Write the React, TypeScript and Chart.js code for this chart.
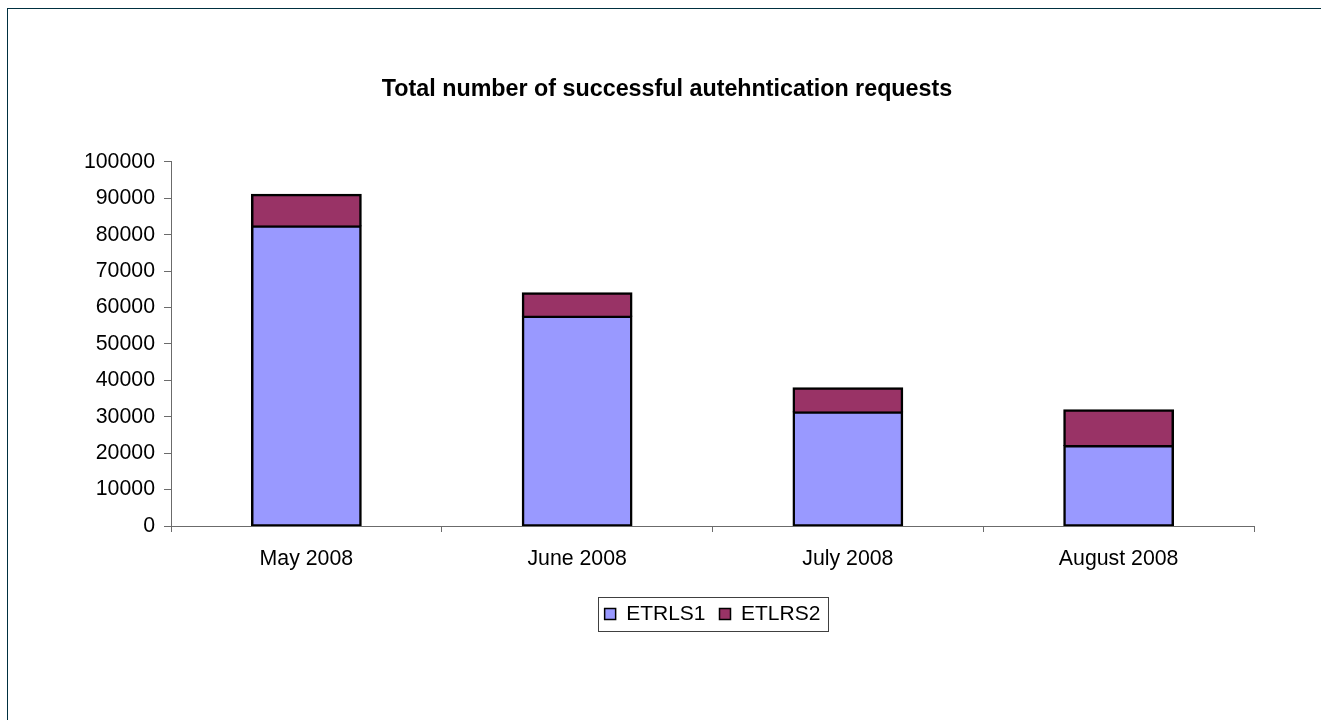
import React, { useEffect, useRef } from "react";
import { Chart, registerables } from "chart.js";

Chart.register(...registerables);

const categories = ["May 2008", "June 2008", "July 2008", "August 2008"];
const seriesNames = ["ETRLS1", "ETLRS2"];
const etrls1Values = [82300, 57500, 31200, 21900];
const etlrs2Values = [8600, 6400, 6600, 9800];
const seriesColors = ["#9999FF", "#993366"];
const titleText = "Total number of successful autehntication requests";
const yMin = 0;
const yMax = 100000;
const yStep = 10000;

const FONT = "'Liberation Sans', Arial, sans-serif";

const legendFrame = {
  id: "legendFrame",
  afterDraw(chart: any) {
    const lg = chart.legend;
    if (!lg || !lg.legendHitBoxes || !lg.legendHitBoxes.length) return;
    const hb = lg.legendHitBoxes;
    const first = hb[0];
    const last = hb[hb.length - 1];
    const cy = first.top + first.height / 2;
    const ctx = chart.ctx;
    ctx.save();
    ctx.strokeStyle = "#404040";
    ctx.lineWidth = 1;
    const l = Math.round(first.left - 7) + 0.5;
    const r = Math.round(last.left + last.width + 8) + 0.5;
    const t = Math.round(cy - 17) + 0.5;
    const b = Math.round(cy + 17) + 0.5;
    ctx.strokeRect(l, t, r - l, b - t);
    ctx.restore();
  },
};

export default function App() {
  const ref = useRef<HTMLCanvasElement | null>(null);
  useEffect(() => {
    if (!ref.current) return;
    const chart = new Chart(ref.current, {
      type: "bar",
      data: {
        labels: categories,
        datasets: [
          {
            label: seriesNames[0],
            data: etrls1Values,
            backgroundColor: seriesColors[0],
            borderColor: "#000000",
            borderWidth: 2.5,
            borderSkipped: false,
            inflateAmount: 1.25,
            barPercentage: 0.4,
            categoryPercentage: 1,
          },
          {
            label: seriesNames[1],
            data: etlrs2Values,
            backgroundColor: seriesColors[1],
            borderColor: "#000000",
            borderWidth: { top: 2.5, left: 2.5, right: 2.5, bottom: 0 },
            borderSkipped: false,
            inflateAmount: 1.25,
            barPercentage: 0.4,
            categoryPercentage: 1,
          },
        ],
      },
      options: {
        animation: false,
        responsive: false,
        maintainAspectRatio: false,
        devicePixelRatio: 1,
        layout: { padding: { top: 0, left: 72, right: 74, bottom: 85.5 } },
        plugins: {
          tooltip: { enabled: false },
          title: {
            display: true,
            text: titleText,
            color: "#000000",
            font: { family: FONT, size: 23.3, weight: "bold" },
            padding: { top: 66.3, bottom: 58.7 },
          },
          legend: {
            display: true,
            position: "bottom",
            fullSize: false,
            labels: {
              color: "#000000",
              font: { family: FONT, size: 21 },
              boxWidth: 11,
              boxHeight: 11,
              padding: 14,
              generateLabels(chart: any) {
                const items = Chart.defaults.plugins.legend.labels.generateLabels(chart);
                items.forEach((it: any) => {
                  it.lineWidth = 1.5;
                  it.strokeStyle = "#000000";
                });
                return items;
              },
            },
          },
        },
        scales: {
          x: {
            stacked: true,
            grid: {
              offset: true,
              drawOnChartArea: false,
              drawTicks: true,
              tickLength: 6,
              color: "#6b6b6b",
            },
            border: { display: true, color: "#6b6b6b", width: 1 },
            ticks: {
              color: "#000000",
              font: { family: FONT, size: 21.3 },
              padding: 14,
              maxRotation: 0,
            },
            afterFit(scale: any) {
              scale.height = 63.5;
            },
          },
          y: {
            stacked: true,
            min: yMin,
            max: yMax,
            grid: {
              drawOnChartArea: false,
              drawTicks: true,
              tickLength: 7,
              color: "#6b6b6b",
            },
            border: { display: true, color: "#6b6b6b", width: 1 },
            ticks: {
              stepSize: yStep,
              color: "#000000",
              font: { family: FONT, size: 21.3 },
              padding: 9,
              callback: (v: any) => String(v),
            },
            afterFit(scale: any) {
              scale.width = 91;
            },
          },
        },
      },
      plugins: [legendFrame],
    });
    return () => chart.destroy();
  }, []);

  return (
    <div
      style={{
        position: "fixed",
        left: 0,
        top: 0,
        width: 1321,
        height: 720,
        overflow: "hidden",
        background: "#ffffff",
      }}
    >
      <div
        style={{
          position: "absolute",
          left: 7,
          top: 8,
          width: 1340,
          height: 760,
          border: "1px solid #003040",
          boxSizing: "border-box",
        }}
      >
        <canvas
          ref={ref}
          width={1320}
          height={711}
          style={{ position: "absolute", left: 0, top: 0, width: 1320, height: 711 }}
        />
      </div>
    </div>
  );
}
